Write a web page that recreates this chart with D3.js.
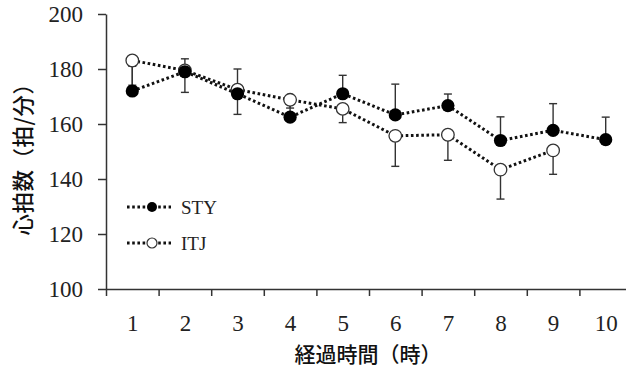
<!DOCTYPE html>
<html><head><meta charset="utf-8">
<script src="https://cdn.jsdelivr.net/npm/d3@7"></script>
<style>
html,body{margin:0;padding:0;background:#fff;}
svg{display:block;}
</style>
</head><body>
<svg id="chart" width="626" height="373"></svg>
<script>
const hours = [1,2,3,4,5,6,7,8,9,10];
const styValues = [172,179,171,162.5,171,163.3,166.7,154,157.7,154.3];
const styErrors = [9,4.7,9,7.5,6.7,11.2,4.2,8.6,9.7,8.2];
const itjValues = [183.1,179.5,172.5,168.8,165.5,155.7,156.1,143.4,150.4,null];
const itjErrors = [9,8,9,3,5,11.1,9.3,10.7,8.7,null];
const yTicks = [100,120,140,160,180,200];
const seriesNames = ["STY","ITJ"];
const xTitle = "経過時間（時）";
const yTitle = "心拍数（拍/分）";

const svg = d3.select("#chart");
const x = d3.scaleLinear().domain([0.5,10.5]).range([106,632]);
const y = d3.scaleLinear().domain([100,200]).range([289,14]);
const axisColor = "#333";
const serif = '"Liberation Serif"';
const cjk = '"Noto Sans CJK JP"';

// X axis: boundary ticks
const gx = svg.append("g").attr("transform",`translate(0,${y(100)})`);
gx.call(d3.axisBottom(x).tickValues(d3.range(0.5,11,1)).tickSize(7).tickSizeOuter(0).tickFormat(""));
const gxl = svg.append("g").attr("transform",`translate(0,${y(100)})`);
gxl.call(d3.axisBottom(x).tickValues(hours).tickSize(0).tickPadding(26).tickFormat(d3.format("d")));
gxl.select(".domain").remove();
// Y axis
const gy = svg.append("g").attr("transform",`translate(${x(0.5)},0)`);
gy.call(d3.axisLeft(y).tickValues(yTicks).tickSize(8).tickPadding(15).tickSizeOuter(0));

svg.selectAll(".domain, .tick line").attr("stroke",axisColor).attr("stroke-width",1.5);
svg.selectAll(".tick text").style("font-family",serif).style("font-size","23px").attr("fill","#222");

// titles
svg.append("text").attr("x",368).attr("y",362).attr("text-anchor","middle")
  .style("font-family",cjk).style("font-size","21px").style("font-weight",500).attr("fill","#111").text(xTitle);
svg.append("text").attr("transform","translate(31,154) rotate(-90)").attr("text-anchor","middle")
  .style("font-family",cjk).style("font-size","21.5px").style("font-weight",500).style("letter-spacing","0.5px")
  .attr("fill","#111").text(yTitle);

const sty = hours.map((h,i)=>({h,v:styValues[i],e:styErrors[i]}));
const itj = hours.map((h,i)=>({h,v:itjValues[i],e:itjErrors[i]})).filter(d=>d.v!=null);

// error bars: STY upward, ITJ downward
function errBars(data, dir){
  const g = svg.append("g").attr("stroke","#333").attr("stroke-width",1.4);
  data.forEach(d=>{
    const y0 = y(d.v), y1 = y(d.v + dir*d.e), cx = x(d.h);
    g.append("line").attr("x1",cx).attr("x2",cx).attr("y1",y0).attr("y2",y1);
    g.append("line").attr("x1",cx-4).attr("x2",cx+4).attr("y1",y1).attr("y2",y1);
  });
}
errBars(sty, 1);
errBars(itj, -1);

const line = d3.line().x(d=>x(d.h)).y(d=>y(d.v));
const dotted = {stroke:"#111","stroke-width":3,"stroke-dasharray":"2.6 2.6",fill:"none"};
function applyAttrs(sel,o){Object.entries(o).forEach(([k,v])=>sel.attr(k,v));return sel;}
applyAttrs(svg.append("path").datum(itj).attr("d",line),dotted);
applyAttrs(svg.append("path").datum(sty).attr("d",line),dotted);

svg.append("g").selectAll("circle").data(itj).join("circle")
  .attr("cx",d=>x(d.h)).attr("cy",d=>y(d.v)).attr("r",6.3)
  .attr("fill","#fff").attr("stroke","#333").attr("stroke-width",1.3);
svg.append("g").selectAll("circle").data(sty).join("circle")
  .attr("cx",d=>x(d.h)).attr("cy",d=>y(d.v)).attr("r",6.6).attr("fill","#000");

// legend
const legend = svg.append("g");
[{name:seriesNames[0],yy:207,filled:true},{name:seriesNames[1],yy:243,filled:false}].forEach(l=>{
  applyAttrs(legend.append("line").attr("x1",127).attr("x2",171).attr("y1",l.yy).attr("y2",l.yy),dotted);
  legend.append("circle").attr("cx",152).attr("cy",l.yy).attr("r",5)
    .attr("fill",l.filled?"#000":"#fff").attr("stroke",l.filled?"none":"#333").attr("stroke-width",1.2);
  legend.append("text").attr("x",181).attr("y",l.yy+7).style("font-family",serif).style("font-size","19px")
    .attr("fill","#222").text(l.name);
});
</script>
</body></html>
